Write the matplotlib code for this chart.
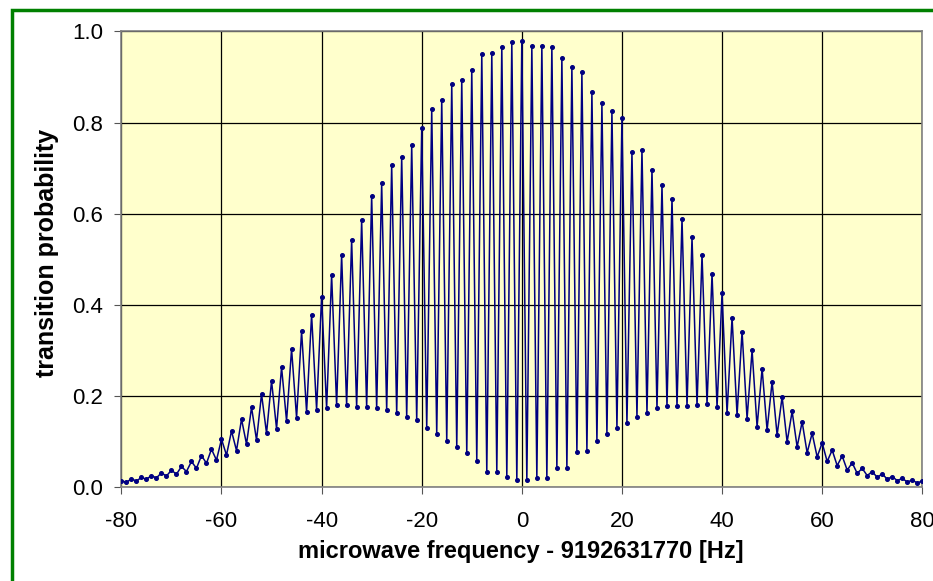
import numpy as np
from matplotlib import pyplot as plt
from matplotlib.patches import Rectangle

# fringe maxima (at even detunings) and minima (at odd detunings)
peak_hz = np.arange(-80, 81, 2)
peak_p = [0.014, 0.018, 0.021, 0.025, 0.031, 0.037, 0.045, 0.056, 0.069, 0.083,
          0.105, 0.123, 0.149, 0.175, 0.204, 0.233, 0.263, 0.303, 0.342, 0.378,
          0.418, 0.465, 0.509, 0.542, 0.586, 0.639, 0.667, 0.706, 0.724, 0.750,
          0.788, 0.829, 0.850, 0.885, 0.894, 0.916, 0.950, 0.952, 0.967, 0.977,
          0.980,
          0.968, 0.969, 0.967, 0.942, 0.923, 0.911, 0.867, 0.842, 0.825, 0.809,
          0.735, 0.740, 0.697, 0.662, 0.633, 0.589, 0.548, 0.509, 0.467, 0.425,
          0.372, 0.341, 0.300, 0.260, 0.231, 0.198, 0.166, 0.143, 0.118, 0.097,
          0.081, 0.068, 0.053, 0.041, 0.034, 0.029, 0.023, 0.019, 0.015, 0.013]

trough_hz = np.arange(-79, 80, 2)
trough_p = [0.010, 0.013, 0.017, 0.020, 0.024, 0.028, 0.034, 0.041, 0.052, 0.059,
            0.070, 0.080, 0.094, 0.103, 0.118, 0.128, 0.145, 0.152, 0.165, 0.170,
            0.173, 0.180, 0.180, 0.176, 0.176, 0.173, 0.169, 0.162, 0.154, 0.147,
            0.130, 0.116, 0.100, 0.088, 0.074, 0.057, 0.033, 0.033, 0.023, 0.015,
            0.015, 0.020, 0.020, 0.042, 0.042, 0.077, 0.080, 0.100, 0.116, 0.130,
            0.140, 0.154, 0.162, 0.173, 0.178, 0.178, 0.178, 0.180, 0.183, 0.176,
            0.162, 0.158, 0.150, 0.132, 0.125, 0.114, 0.099, 0.088, 0.075, 0.066,
            0.056, 0.047, 0.037, 0.030, 0.025, 0.021, 0.017, 0.014, 0.011, 0.009]

x_ticks = [-80, -60, -40, -20, 0, 20, 40, 60, 80]
y_ticks = [0.0, 0.2, 0.4, 0.6, 0.8, 1.0]

plt.rcParams['font.family'] = ['Liberation Sans', 'DejaVu Sans']

# merge maxima and minima into one curve
f = np.concatenate([peak_hz, trough_hz])
p = np.concatenate([peak_p, trough_p])
order = np.argsort(f)
f, p = f[order], p[order]

fig = plt.figure(figsize=(9.33, 5.81), dpi=100)
ax = fig.add_axes([0.1301, 0.1618, 0.8584, 0.784])
ax.set_facecolor("#ffffcc")

ax.plot(f, p, color="#000080", lw=1.1, marker="o", ms=2.6, zorder=3)

ax.set_xlim(-80, 80)
ax.set_ylim(0, 1)
ax.set_xticks(x_ticks)
ax.set_yticks(y_ticks)
ax.set_xticklabels([str(v) for v in x_ticks])
ax.set_yticklabels(["%.1f" % v for v in y_ticks])
ax.tick_params(labelsize=16, length=5, color="#555555")
ax.tick_params(axis="x", pad=12)
ax.tick_params(axis="y", pad=8)
ax.grid(color="black", lw=0.9)
ax.set_axisbelow(True)
for s in ax.spines.values():
    s.set_color("#808080")
    s.set_linewidth(1.2)

fig.text(0.558, 0.051, "microwave frequency - 9192631770 [Hz]",
         fontsize=17, fontweight="bold", ha="center", va="center")
fig.text(0.050, 0.565, "transition probability", rotation=90,
         fontsize=18, fontweight="bold", ha="center", va="center")

# green outer frame (cropped on the right and bottom)
fig.add_artist(Rectangle((12 / 933, -0.2), 1.2, 1.2 - 10.3 / 581,
                         transform=fig.transFigure, fill=False,
                         edgecolor="#008000", lw=2.5, clip_on=False))

fig.savefig("out.png", dpi=100)
